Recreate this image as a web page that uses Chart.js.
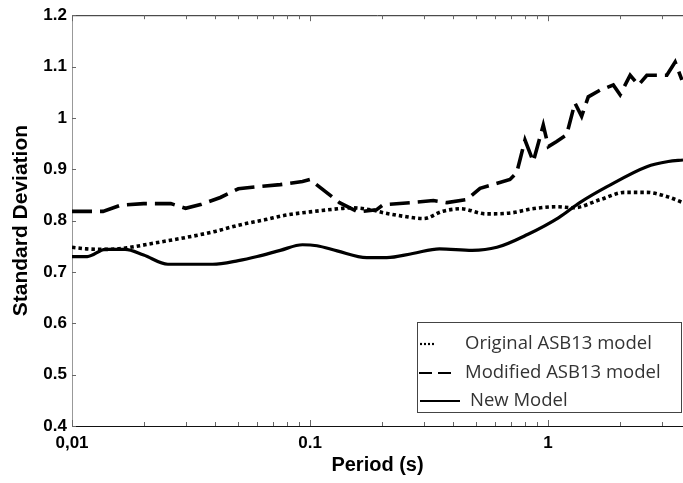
<!DOCTYPE html>
<html><head><meta charset="utf-8">
<script src="https://cdn.jsdelivr.net/npm/chart.js@4.4.0/dist/chart.umd.min.js"></script>
<style>html,body{margin:0;padding:0;background:#fff;}#wrap{width:683px;height:483px;}</style>
</head><body><div id="wrap"><canvas id="c" width="683" height="483"></canvas></div>
<script>
// ---- data ----
const seriesLabels = ['Original ASB13 model', 'Modified ASB13 model', 'New Model'];

const originalPeriods = [0.010, 0.0115, 0.014, 0.017, 0.022, 0.030, 0.040, 0.050, 0.065, 0.080, 0.100, 0.125, 0.150, 0.180, 0.205, 0.250, 0.300, 0.360, 0.430, 0.550, 0.700, 0.860, 1.09, 1.28, 1.66, 2.10, 2.60, 3.15, 3.69];
const originalValues  = [0.748, 0.745, 0.744, 0.747, 0.756, 0.767, 0.779, 0.791, 0.802, 0.811, 0.817, 0.822, 0.825, 0.821, 0.815, 0.808, 0.804, 0.818, 0.823, 0.813, 0.815, 0.823, 0.827, 0.825, 0.841, 0.855, 0.855, 0.847, 0.835];

const modifiedPeriods = [0.010, 0.0135, 0.016, 0.020, 0.026, 0.030, 0.035, 0.042, 0.050, 0.060, 0.075, 0.093, 0.100, 0.133, 0.159, 0.190, 0.203, 0.264, 0.330, 0.376, 0.455, 0.518, 0.692, 0.738, 0.762, 0.800, 0.867, 0.955, 1.003, 1.087, 1.197, 1.297, 1.384, 1.476, 1.653, 1.880, 2.008, 2.213, 2.398, 2.601, 3.155, 3.42, 3.65];
const modifiedValues  = [0.818, 0.818, 0.830, 0.833, 0.833, 0.824, 0.832, 0.845, 0.862, 0.866, 0.870, 0.876, 0.880, 0.835, 0.817, 0.821, 0.831, 0.835, 0.839, 0.835, 0.841, 0.863, 0.880, 0.893, 0.918, 0.957, 0.915, 0.986, 0.944, 0.954, 0.967, 1.029, 1.003, 1.041, 1.054, 1.064, 1.045, 1.083, 1.064, 1.083, 1.083, 1.109, 1.074];

const newPeriods = [0.010, 0.0116, 0.0138, 0.0167, 0.020, 0.0253, 0.039, 0.050, 0.060, 0.075, 0.093, 0.107, 0.130, 0.173, 0.210, 0.270, 0.350, 0.480, 0.610, 0.820, 1.11, 1.36, 1.77, 2.60, 3.20, 3.69];
const newValues  = [0.730, 0.730, 0.744, 0.744, 0.733, 0.715, 0.715, 0.722, 0.730, 0.742, 0.753, 0.751, 0.741, 0.728, 0.728, 0.736, 0.745, 0.742, 0.748, 0.773, 0.806, 0.835, 0.866, 0.905, 0.915, 0.918];

const xMin = 0.01, xMax = 3.69;
const xLabelValues = [0.01, 0.1, 1];
const xLabelTexts  = ['0,01', '0.1', '1'];
const yMin = 0.4, yMax = 1.2, yStep = 0.1;
const xTitle = 'Period (s)';
const yTitle = 'Standard Deviation';

// ---- helpers ----
const toPoints = (xs, ys) => xs.map((x, i) => ({x: x, y: ys[i]}));
const isIntMultiple = v => {
  const p = Math.pow(10, Math.floor(Math.log10(v) + 1e-9));
  const r = v / p;
  return Math.abs(r - Math.round(r)) < 1e-6;
};
const isDecade = v => Math.abs(Math.log10(v) - Math.round(Math.log10(v))) < 1e-6;

const tickFont = {family: 'Liberation Sans, Arial, sans-serif', weight: 'bold', size: 17};

const framePlugin = {
  id: 'frame',
  afterDraw(chart) {
    const ctx = chart.ctx;
    const a = chart.chartArea;
    const xs = chart.scales.x, ys = chart.scales.y;
    ctx.save();
    // top border
    ctx.strokeStyle = '#222';
    ctx.lineWidth = 1;
    ctx.beginPath();
    ctx.moveTo(a.left, a.top + 0.5);
    ctx.lineTo(a.right, a.top + 0.5);
    ctx.stroke();
    // x ticks (inside, bottom & top)
    ctx.strokeStyle = '#666';
    xs.ticks.forEach(t => {
      if (!isIntMultiple(t.value)) return;
      const px = Math.round(xs.getPixelForValue(t.value)) + 0.5;
      const len = isDecade(t.value) ? 6 : 4;
      ctx.beginPath();
      ctx.moveTo(px, a.bottom); ctx.lineTo(px, a.bottom - len);
      ctx.moveTo(px, a.top); ctx.lineTo(px, a.top + len);
      ctx.stroke();
    });
    // y ticks
    ys.ticks.forEach(t => {
      const py = Math.round(ys.getPixelForValue(t.value)) + 0.5;
      ctx.beginPath();
      ctx.moveTo(a.left, py); ctx.lineTo(a.left + 4, py);
      ctx.stroke();
    });
    // legend box
    const lg = {x: 417.5, y: 322.5, w: 264, h: 90};
    ctx.fillStyle = '#fff';
    ctx.fillRect(lg.x, lg.y, lg.w, lg.h);
    ctx.strokeStyle = '#444';
    ctx.lineWidth = 1;
    ctx.strokeRect(lg.x, lg.y, lg.w, lg.h);
    const rowY = [344, 373, 401];
    const sample = [
      {x0: 420, x1: 434, dash: [2, 2]},
      {x0: 419, x1: 451, dash: [13, 6]},
      {x0: 420, x1: 460, dash: []}
    ];
    const textX = [465, 465, 470];
    ctx.font = '18.5px "Open Sans", sans-serif';
    ctx.textBaseline = 'middle';
    ctx.textAlign = 'left';
    chart.data.datasets.forEach((ds, i) => {
      ctx.strokeStyle = '#000';
      ctx.lineWidth = 2.2;
      ctx.setLineDash(sample[i].dash);
      ctx.beginPath();
      ctx.moveTo(sample[i].x0, rowY[i]);
      ctx.lineTo(sample[i].x1, rowY[i]);
      ctx.stroke();
      ctx.setLineDash([]);
      ctx.fillStyle = '#333';
      ctx.fillText(ds.label, textX[i], rowY[i]);
    });
    ctx.restore();
  }
};

new Chart(document.getElementById('c'), {
  type: 'line',
  data: {
    datasets: [
      {label: seriesLabels[0], data: toPoints(originalPeriods, originalValues), borderColor: '#000', borderWidth: 3.6, borderDash: [3.5, 3], borderCapStyle: 'butt', pointRadius: 0, cubicInterpolationMode: 'monotone', fill: false},
      {label: seriesLabels[1], data: toPoints(modifiedPeriods, modifiedValues), borderColor: '#000', borderWidth: 3.6, borderDash: [20, 8], pointRadius: 0, tension: 0, fill: false},
      {label: seriesLabels[2], data: toPoints(newPeriods, newValues), borderColor: '#000', borderWidth: 3.2, pointRadius: 0, cubicInterpolationMode: 'monotone', fill: false}
    ]
  },
  options: {
    responsive: false,
    animation: false,
    devicePixelRatio: 1,
    layout: {padding: {top: 15, right: 0, left: 0, bottom: 0}},
    plugins: {legend: {display: false}, tooltip: {enabled: false}},
    scales: {
      x: {
        type: 'logarithmic', min: xMin, max: xMax,
        grid: {display: false, drawTicks: true, tickLength: 7},
        border: {display: true, color: '#111', width: 1},
        ticks: {
          autoSkip: false, maxRotation: 0, minRotation: 0, padding: 0, color: '#000', font: tickFont,
          callback: (v) => {
            const i = xLabelValues.findIndex(x => Math.abs(Math.log10(x) - Math.log10(v)) < 1e-6);
            return i >= 0 ? xLabelTexts[i] : '';
          }
        },
        title: {display: true, text: xTitle, color: '#000', font: {family: 'Liberation Sans, Arial, sans-serif', weight: 'bold', size: 20}, padding: {top: 0, bottom: 6}},
        afterFit: (s) => { s.height = 57; }
      },
      y: {
        min: yMin, max: yMax,
        grid: {display: false, drawTicks: false},
        border: {display: true, color: '#999', width: 1},
        ticks: {
          stepSize: yStep, padding: 5, color: '#000', font: tickFont,
          callback: (v) => String(Number(v.toFixed(1)))
        },
        title: {display: true, text: yTitle, color: '#000', font: {family: 'Liberation Sans, Arial, sans-serif', weight: 'bold', size: 21}, padding: {top: 9, bottom: 0}},
        afterFit: (s) => { s.width = 72; }
      }
    }
  },
  plugins: [framePlugin]
});
</script>
</body></html>
